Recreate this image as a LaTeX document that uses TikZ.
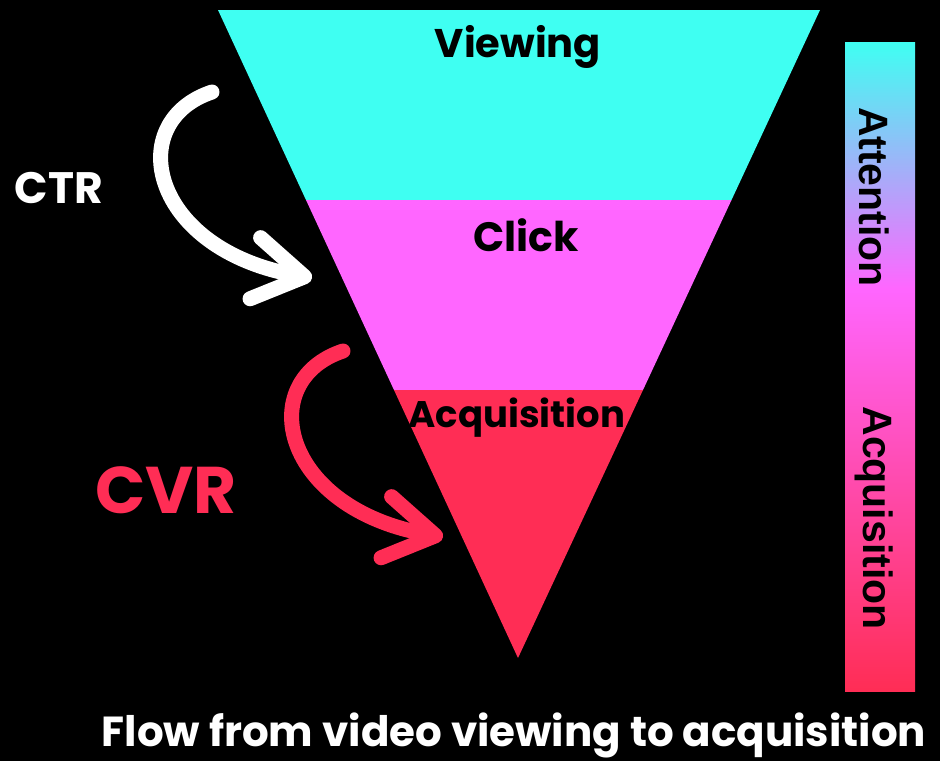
\documentclass[tikz,border=0pt]{standalone}
\usepackage{fontspec}
\setmainfont{Poppins}
\newfontfamily\barfont{Liberation Sans}
\usetikzlibrary{arrows.meta}
\definecolor{funcyan}{HTML}{3FFFF2}
\definecolor{funpink}{HTML}{FF66FF}
\definecolor{funred}{HTML}{FF2D55}
\pgfdeclareverticalshading{barshade}{100bp}{color(0bp)=(funred); color(25bp)=(funred);
  color(56bp)=(funpink); color(75bp)=(funcyan); color(100bp)=(funcyan)}
\tikzset{
  bandlabel/.style={
    font=\bfseries\fontsize{40}{40}\selectfont,
    text=black,
    anchor=base,
    inner sep=0pt
  },
  barlabel/.style={
    font=\barfont\bfseries\fontsize{41}{41}\selectfont,
    text=black,
    rotate=-90,
    inner sep=0pt
  },
  ratelabel/.style={
    font=\bfseries\fontsize{44}{44}\selectfont,
    anchor=base,
    inner sep=0pt
  },
  flowarrow/.style={
    line width=15pt,
    line cap=round,
    -{Straight Barb[length=50pt 0,width=62pt 0,round]}
  }
}
\begin{document}
\begin{tikzpicture}[x=1pt,y=-1pt]
  \useasboundingbox[fill=black] (0,0) rectangle (940,761);

  % funnel bands
  \fill[funcyan] (218,10) -- (820,10) -- (731.5,200) -- (306,200) -- cycle;
  \fill[funpink] (306,200) -- (731.5,200) -- (643,390) -- (394,390) -- cycle;
  \fill[funred] (394,390) -- (643,390) -- (518,658) -- cycle;

  \node[bandlabel] (viewing) at (518,57) {Viewing};
  \node[bandlabel, font=\bfseries\fontsize{41}{41}\selectfont] (click) at (526,251) {Click};
  \node[bandlabel, font=\bfseries\fontsize{37}{37}\selectfont] (acq) at (517,427) {Acquisition};

  % side bar
  \shade[shading=barshade] (845,42) rectangle (915,691);
  \node[barlabel] (attn) at (874,197) {Attention};
  \node[barlabel] (acqbar) at (874,518) {Acquisition};

  % rates
  \node[ratelabel, text=white] (ctr) at (59,203) {CTR};
  \node[ratelabel, text=funred, font=\bfseries\fontsize{66}{66}\selectfont] (cvr) at (166,513) {CVR};

  \coordinate (ctrfrom) at (212,92);
  \coordinate (ctrto) at (312,278);
  \coordinate (cvrfrom) at (343,351);
  \coordinate (cvrto) at (443,537);
  \draw[flowarrow, white] (ctrfrom) .. controls +(-90,30) and +(-162,-28) .. (ctrto);
  \draw[flowarrow, funred] (cvrfrom) .. controls +(-90,30) and +(-162,-28) .. (cvrto);

  \node[font=\bfseries\fontsize{42}{42}\selectfont, text=white, anchor=base, inner sep=0pt] (title) at (514,746) {Flow from video viewing to acquisition};
\end{tikzpicture}
\end{document}
